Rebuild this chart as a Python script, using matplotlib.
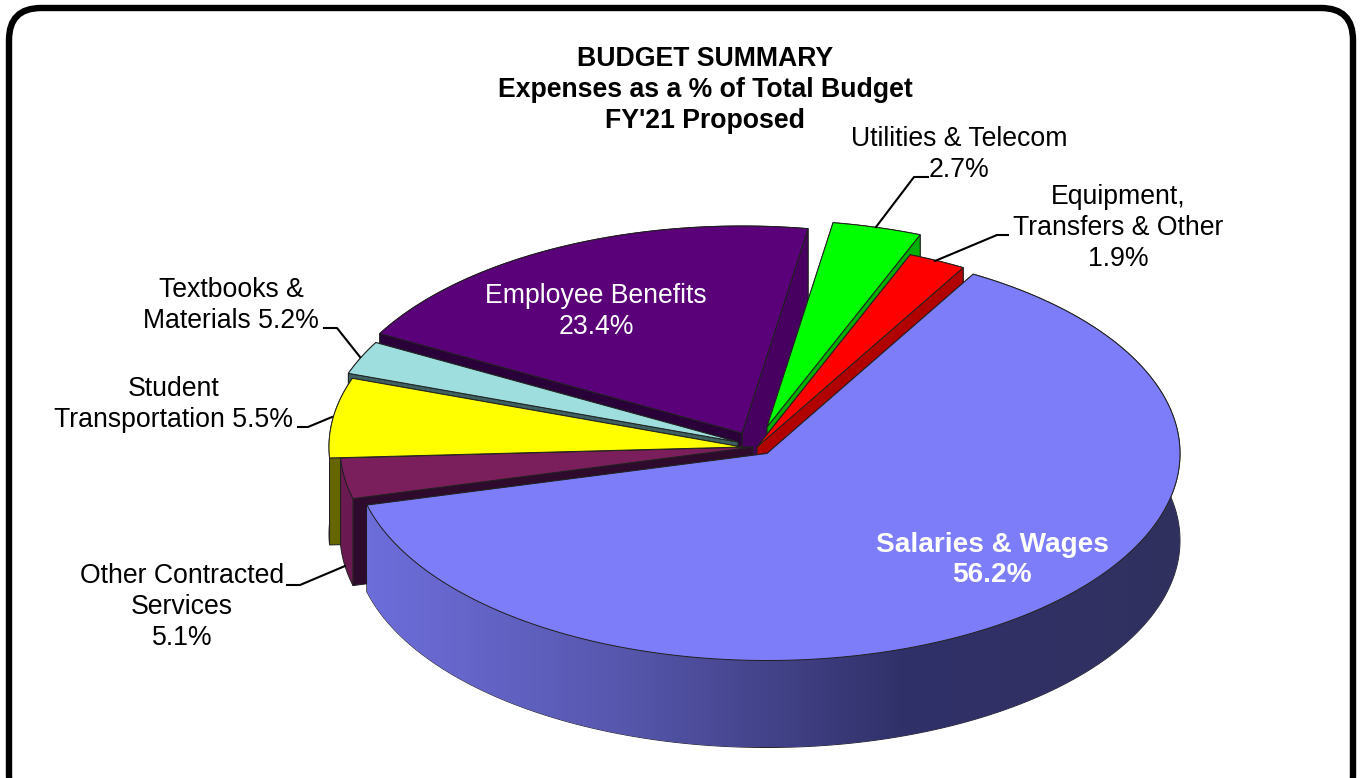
import numpy as np
import matplotlib
matplotlib.use("Agg")
import matplotlib.pyplot as plt
from matplotlib.patches import Polygon, FancyBboxPatch

plt.rcParams['font.family'] = ['Liberation Sans', 'DejaVu Sans']

# data, in drawing order round the pie (clockwise on screen)
categories = ["Salaries & Wages", "Other Contracted Services", "Student Transportation",
              "Textbooks & Materials", "Employee Benefits", "Utilities & Telecom",
              "Equipment, Transfers & Other"]
shares = [56.2, 5.1, 5.5, 5.2, 23.4, 2.7, 1.9]

# styles
top_colors = ["#7D7DFA", "#7B1F5C", "#FFFF00", "#9EDEDE", "#5A0078", "#00FF00", "#FF0000"]
rim_colors = [None, "#6A1A50", "#666600", "#4A7070", "#3A004E", "#00B000", "#B00000"]
start_faces = ["#30305F", "#2E0A2C", "#666600", "#3F6060", "#2A0038", "#00B000", "#B00000"]
end_faces = ["#30305F", "#5A1845", "#666600", "#3F6060", "#47005F", "#00B000", "#B00000"]
# explosion of each slice: apex on screen
apex_x = [767, 753, 742, 738, 742, 767, 757]
apex_y = [453.5, 447, 447, 442, 433, 427, 447]
RX, RY, DEPTH = 413, 207, 87
# near side of the pie is stretched, far side squeezed
START, WARP, NEAR = -49.5, 13, 35.5
# small correction of the slice edges for the 3D view, degrees
edge_nudge = [2.4, 1.2, -3.3, 3.0, -2.3, -2.0, 1.1, 2.4]
draw_order = [4, 5, 6, 3, 2, 1, 0]
top_z = {2: 8}

fig = plt.figure(figsize=(13.61, 7.78), dpi=100)
ax = fig.add_axes([0, 0, 1, 1])
ax.set_xlim(0, 1361)
ax.set_ylim(778, 0)
ax.axis("off")

ax.add_patch(FancyBboxPatch((9, 8), 1344, 800, boxstyle="round,pad=0,rounding_size=32",
                            fc="white", ec="black", lw=4.6, zorder=0))


def screen_angle(theta, nudge):
    return np.radians(theta + WARP * np.sin(np.radians(theta - NEAR)) + nudge)


edges = START + np.concatenate(([0], np.cumsum(shares))) * 3.6
EC, LW = "#202020", 0.7

for i in draw_order:
    t = screen_angle(np.linspace(edges[i], edges[i + 1], 240),
                     np.linspace(edge_nudge[i], edge_nudge[i + 1], 240))
    cx, cy = apex_x[i], apex_y[i]
    x = cx + RX * np.cos(t)
    y = cy + RY * np.sin(t)
    z = 2 + draw_order.index(i) * 0.01
    rim_xy = np.column_stack((np.r_[x, x[::-1]], np.r_[y, y[::-1] + DEPTH]))
    rim_behind = np.sin(t).mean() < 0

    def draw_rim():
        if rim_colors[i] is not None:
            ax.add_patch(Polygon(rim_xy, fc=rim_colors[i], ec=EC, lw=LW, zorder=z))
            return
        # gradient along the front of the big slice
        gx = np.linspace(x.min(), x.max(), 400)
        grad = np.stack([np.interp(gx, [362, 620, 900, 1180], c) for c in
                         ([0x6E, 0x57, 0x31, 0x30], [0x6E, 0x57, 0x31, 0x30], [0xDC, 0xAE, 0x6A, 0x5F])],
                        axis=-1)[None, :, :] / 255
        poly = Polygon(rim_xy, fc="none", ec=EC, lw=LW, zorder=z)
        ax.add_patch(poly)
        im = ax.imshow(grad, extent=(gx[0], gx[-1], y.max() + DEPTH, y.min()), aspect="auto", zorder=z)
        im.set_clip_path(poly)

    if rim_behind:
        draw_rim()
    # radial faces: the one facing the viewer goes last
    faces = ((-1, end_faces[i]), (0, start_faces[i]))
    if rim_behind and np.cos(t).mean() > 0:
        faces = faces[::-1]
    for k, col in faces:
        ax.add_patch(Polygon([(cx, cy), (x[k], y[k]), (x[k], y[k] + DEPTH), (cx, cy + DEPTH)],
                             fc=col, ec=EC, lw=LW, zorder=z))
    if not rim_behind:
        draw_rim()
    # top
    ax.add_patch(Polygon(np.column_stack((np.r_[cx, x], np.r_[cy, y])),
                         fc=top_colors[i], ec=EC, lw=LW, zorder=top_z.get(i, z)))

ax.set_xlim(0, 1361)
ax.set_ylim(778, 0)

# leader lines
leaders = [([876, 914, 928], [227, 177, 177]),
           ([935, 997, 1008], [261, 235, 235]),
           ([360, 337, 324], [357, 328, 328]),
           ([332, 308, 298], [417, 427, 427]),
           ([345, 300, 287], [566, 585, 585])]
for lx, ly in leaders:
    ax.plot(lx, ly, color="black", lw=1.5, zorder=9)

FS = 19.15
LS = 1.25
ax.text(705, 90, "BUDGET SUMMARY\nExpenses as a % of Total Budget\nFY'21 Proposed", fontsize=FS,
        fontweight="bold", ha="center", va="center", multialignment="center", linespacing=LS, zorder=10)
labels = [(959, 154, "Utilities & Telecom\n%.1f%%" % shares[5], "black", "normal", FS),
          (1118, 228, "Equipment,\nTransfers & Other\n%.1f%%" % shares[6], "black", "normal", FS),
          (231, 305.5, "Textbooks &\nMaterials %.1f%%" % shares[3], "black", "normal", FS),
          (174, 404, "Student\nTransportation %.1f%%" % shares[2], "black", "normal", FS),
          (182, 607, "Other Contracted\nServices\n%.1f%%" % shares[1], "black", "normal", FS),
          (596, 311.5, "Employee Benefits\n%.1f%%" % shares[4], "white", "normal", FS),
          (992, 560, "Salaries & Wages\n%.1f%%" % shares[0], "white", "bold", 20.2)]
for lx, ly, txt, col, weight, size in labels:
    ax.text(lx, ly, txt, fontsize=size, color=col, fontweight=weight, ha="center", va="center",
            multialignment="center", linespacing=LS, zorder=10)

fig.savefig("out.png", dpi=100)
